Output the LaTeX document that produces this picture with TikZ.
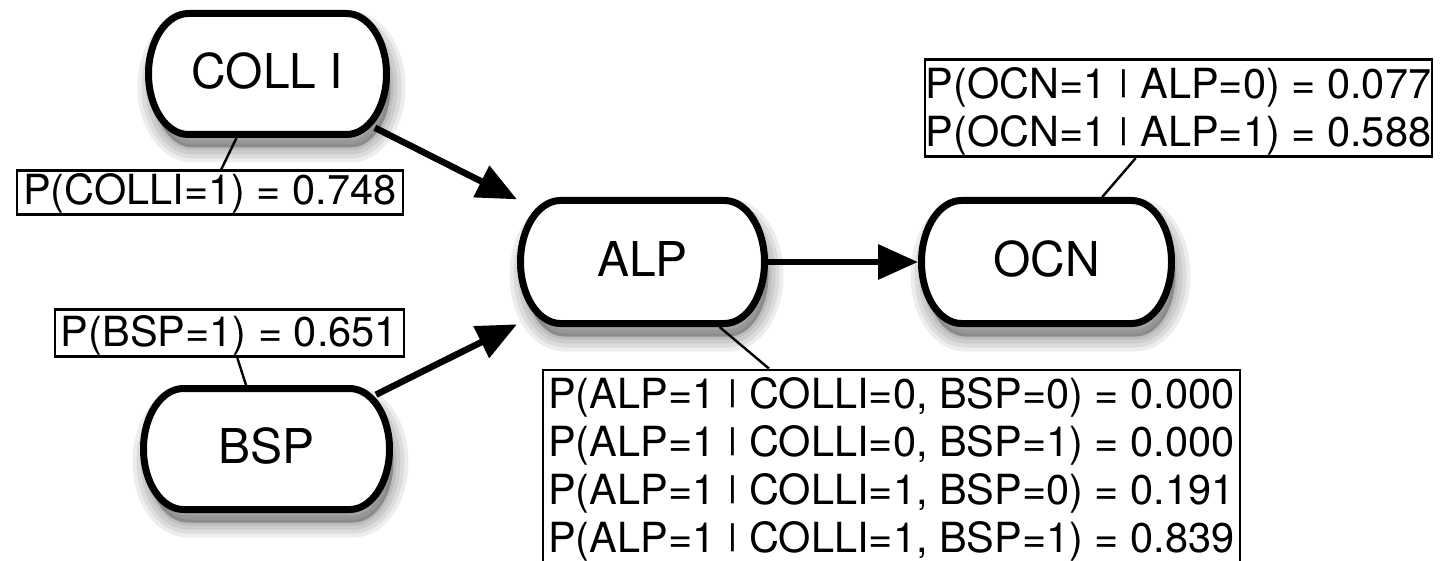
\documentclass[tikz,border=0pt]{standalone}
\usepackage{fontspec}
\setmainfont{TeX Gyre Heros}
\usetikzlibrary{arrows.meta}
\newcommand\varfont{\fontsize{48}{56}\selectfont}
\newcommand\cptfont{\fontsize{41.5}{48}\selectfont}
\newcommand\hstrut[1]{\rule{0pt}{#1}}
\newcommand\dstrut[1]{\rule[-#1]{0pt}{0pt}}
% conditioning bar set at cap height
\newcommand\given{\raisebox{0.16em}{\scalebox{1}[0.72]{|}}}
% capsule path with elliptic ends: centre x, centre y, half width, half height
\newcommand\capsulepath[4]{%
  ({#1-#3+40},{#2-#4}) -- ({#1+#3-40},{#2-#4})
    .. controls ({#1+#3-17.91},{#2-#4}) and ({#1+#3},{#2-0.5523*#4}) .. ({#1+#3},{#2})
    .. controls ({#1+#3},{#2+0.5523*#4}) and ({#1+#3-17.91},{#2+#4}) .. ({#1+#3-40},{#2+#4})
    -- ({#1-#3+40},{#2+#4})
    .. controls ({#1-#3+17.91},{#2+#4}) and ({#1-#3},{#2+0.5523*#4}) .. ({#1-#3},{#2})
    .. controls ({#1-#3},{#2-0.5523*#4}) and ({#1-#3+17.91},{#2-#4}) .. ({#1-#3+40},{#2-#4})
    -- cycle}
% soft drop shadow, then the white capsule with its thick outline
\newcommand\capsule[4]{%
  \foreach \w in {30,22,14,6}
    \draw[softshadow, line width=\w pt] \capsulepath{#1}{#2}{#3}{#4};
  \draw[capsuleline] \capsulepath{#1}{#2}{#3}{#4};}

\begin{document}
\begin{tikzpicture}[x=1pt,y=-1pt,
  varnode/.style={inner sep=0pt, outer sep=3.5pt, font=\varfont,
    text height=34.5pt, text depth=5pt},
  softshadow/.style={draw=black, fill=black, draw opacity=0.07,
    fill opacity=0.07, line join=round, shift={(4,13)}},
  capsuleline/.style={draw, line width=7pt, fill=white, line join=round},
  cpt/.style={draw, line width=2.8pt, fill=white, inner xsep=0pt,
    inner ysep=1.5pt, font=\cptfont, align=left, anchor=north west},
  link/.style={line width=6.5pt, draw=black,
    -{Triangle[length=40pt,width=34pt,fill=black]}},
  tie/.style={line width=2.4pt}]

\useasboundingbox (0,0) rectangle (1440,561);
\fill[white] (0,0) rectangle (1440,561);
\clip (0,0) rectangle (1440,561);

% outlines of the variables
\capsule{267.5}{74}{119}{60.5}
\capsule{642.5}{262}{122}{61.5}
\capsule{1046.5}{262}{125}{61.5}
\capsule{266.5}{449}{123}{60.5}

% variables of the network
\node[varnode, minimum width=238pt, minimum height=121pt] (colli) at (267.5,74) {COLL I};
\node[varnode, minimum width=244pt, minimum height=123pt] (alp) at (642.5,262) {ALP};
\node[varnode, minimum width=250pt, minimum height=123pt] (ocn) at (1046.5,262) {OCN};
\node[varnode, minimum width=246pt, minimum height=121pt] (bsp) at (266.5,449) {BSP};

% probability tables
\node[cpt, minimum width=386pt] (pcolli) at (15.5,169.5)
  {\hstrut{32pt}P(COLLI=1) = 0.748};
\node[cpt, minimum width=349pt] (pbsp) at (53.5,308.5)
  {\hstrut{35pt}P(BSP=1) = 0.651};
\node[cpt, minimum width=507pt] (pocn) at (923.5,58.5)
  {\hstrut{37pt}P(OCN=1 \given{} ALP=0) = 0.077\\
   P(OCN=1 \given{} ALP=1) = 0.588};
\node[cpt, minimum width=697pt] (palp) at (541.5,368.5)
  {\hstrut{37pt}P(ALP=1 \given{} COLLI=0, BSP=0) = 0.000\\
   P(ALP=1 \given{} COLLI=0, BSP=1) = 0.000\\
   P(ALP=1 \given{} COLLI=1, BSP=0) = 0.191\\
   P(ALP=1 \given{} COLLI=1, BSP=1) = 0.839\dstrut{20pt}};

% dependencies
\draw[link, shorten <=-17pt] (colli) -- (alp);
\draw[link, shorten <=-19pt] (bsp) -- (alp);
\draw[link] (alp) -- (ocn);

% tables attached to their variables
\draw[tie] (colli) -- (pcolli);
\draw[tie] (bsp) -- (pbsp);
\draw[tie] (ocn) -- (pocn);
\draw[tie] (alp) -- (palp);
\end{tikzpicture}
\end{document}
